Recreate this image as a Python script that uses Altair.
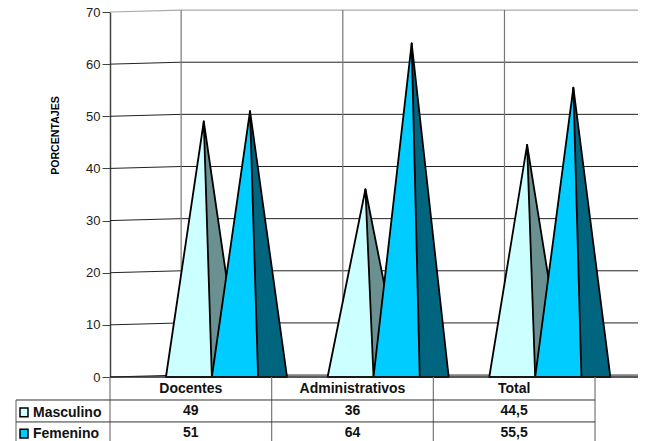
import altair as alt
import pandas as pd

categories = ["Docentes", "Administrativos", "Total"]
masculino = [49, 36, 44.5]
femenino = [51, 64, 55.5]
labels_m = ["49", "36", "44,5"]
labels_f = ["51", "64", "55,5"]
ticks = [0, 10, 20, 30, 40, 50, 60, 70]
series = ["Masculino", "Femenino"]

FONT = "Liberation Sans"
XMAX = 528 / 161.67
LIFT = 0.37      # back wall rise of the gridlines
BACK = 0.44      # back wall depth in category units
ROWS = [0, -4.41, -8.62, -12.26]

xs = alt.Scale(domain=[0, XMAX], nice=False, zero=False)
ys = alt.Scale(domain=[0, 70], nice=False, zero=False)
X = alt.X("x:Q", scale=xs, axis=None)
Y_AXIS = alt.Axis(
    values=ticks, grid=False, format="d", title="PORCENTAJES",
    titleFont=FONT, titleFontSize=10.6, titleFontWeight="bold", titleColor="#000000",
    titleX=-50, titleY=123, titleAngle=270,
    labelFont=FONT, labelFontSize=13, labelColor="#222222", labelPadding=2,
    tickColor="#444444", tickSize=8, domainColor="#444444", domainWidth=1.5)
Y = alt.Y("y:Q", scale=ys, axis=Y_AXIS)


def lines(rows, color, width):
    return alt.Chart(pd.DataFrame(rows)).mark_line(color=color, strokeWidth=width, clip=False).encode(
        x=X, y=Y, detail="k:N", order="o:Q")


# gridlines
grid_rows = []
for t in ticks:
    if t == 70:
        continue
    for o, (x, dy) in enumerate([(0, 0), (BACK, LIFT), (XMAX, LIFT)]):
        grid_rows.append({"k": t, "o": o, "x": x, "y": t + dy})
top_rows = [{"k": 70, "o": o, "x": x, "y": 70 + dy}
            for o, (x, dy) in enumerate([(0, 0), (BACK, LIFT), (XMAX, LIFT)])]
wall_rows = []
for i in range(3):
    wall_rows += [{"k": i, "o": 0, "x": BACK + i, "y": 0},
                  {"k": i, "o": 1, "x": BACK + i, "y": 70 + LIFT}]
base_rows = [{"k": 0, "o": 0, "x": 0, "y": 0}, {"k": 0, "o": 1, "x": XMAX, "y": 0}]

# table rules
tv_rows = []
for i in range(4):
    tv_rows += [{"k": i, "o": 0, "x": i, "y": 0}, {"k": i, "o": 1, "x": i, "y": ROWS[3]}]
left = -94 / 161.67
tv_rows += [{"k": 9, "o": 0, "x": left, "y": ROWS[1]}, {"k": 9, "o": 1, "x": left, "y": ROWS[3]}]
th_rows = []
for j, r in enumerate(ROWS[1:3]):
    th_rows += [{"k": j, "o": 0, "x": left, "y": r}, {"k": j, "o": 1, "x": 3, "y": r}]

# cones: left base, apex, right base of the front face, right end of the side
OFFS = {"Masculino": (0.346, 0.58, 0.63, 0.81), "Femenino": (0.63, 0.866, 0.916, 1.095)}
VALUES = {"Masculino": masculino, "Femenino": femenino}
COLORS = {"Masculino": ("#CCFFFF", "#6B9090"), "Femenino": ("#00CCFF", "#006680")}


def cones(name):
    a, b, c, d = OFFS[name]
    front, side = [], []
    for i, cat in enumerate(categories):
        v = VALUES[name][i]
        front += [{"cat": cat, "x": i + a, "y": 0, "y0": 0},
                  {"cat": cat, "x": i + b, "y": v, "y0": 0},
                  {"cat": cat, "x": i + c, "y": 0, "y0": 0}]
        side += [{"cat": cat, "x": i + b, "y": v, "y0": 0},
                 {"cat": cat, "x": i + d, "y": 0, "y0": 0}]
    out = []
    for rows, col in ((side, COLORS[name][1]), (front, COLORS[name][0])):
        out.append(alt.Chart(pd.DataFrame(rows)).mark_area(
            color=col, stroke="#000000", strokeWidth=1.8, strokeJoin="round",
            clip=False, line=False).encode(
            x=X, y=Y, y2="y0:Q", detail="cat:N"))
    return out


def text(rows, align="center", size=14):
    return alt.Chart(pd.DataFrame(rows)).mark_text(
        font=FONT, fontSize=size, fontWeight="bold", color="#111111",
        align=align, baseline="middle", clip=False).encode(x=X, y=Y, text="t:N")


head = [{"t": c, "x": i + 0.5, "y": -2.25} for i, c in enumerate(categories)]
row_m = [{"t": c, "x": i + 0.5, "y": -6.55} for i, c in enumerate(labels_m)]
row_f = [{"t": c, "x": i + 0.5, "y": -10.65} for i, c in enumerate(labels_f)]
names = [{"t": series[0], "x": -77 / 161.67, "y": -6.85},
         {"t": series[1], "x": -77 / 161.67, "y": -10.95}]
swatches = pd.DataFrame([
    {"x": -90 / 161.67, "x2": -82 / 161.67, "y": -5.93, "y2": -7.6, "c": COLORS["Masculino"][0]},
    {"x": -90 / 161.67, "x2": -82 / 161.67, "y": -10.0, "y2": -11.7, "c": COLORS["Femenino"][0]},
])
swatch_layer = alt.Chart(swatches).mark_rect(stroke="#000000", strokeWidth=1.5, clip=False).encode(
    x=X, x2="x2:Q", y=Y, y2="y2:Q", color=alt.Color("c:N", scale=None, legend=None))

layers = [
    lines(top_rows, "#AAAAAA", 1.2),
    lines(grid_rows, "#222222", 1),
    lines(wall_rows, "#777777", 1.2),
    *cones("Masculino"),
    *cones("Femenino"),
    lines(base_rows, "#222222", 1.6),
    lines(tv_rows, "#777777", 1.2),
    lines(th_rows, "#333333", 1),
    text(head), text(row_m), text(row_f), text(names, align="left"),
    swatch_layer,
]

chart = alt.layer(*layers).resolve_scale(x="shared", y="shared").properties(
    width=528, height=365,
    padding={"left": 102, "top": 4, "right": 0, "bottom": 64},
    autosize=alt.AutoSizeParams(type="none"),
).configure_view(stroke=None)

chart.save("out.html", embed_options={"renderer": "svg", "actions": False})
